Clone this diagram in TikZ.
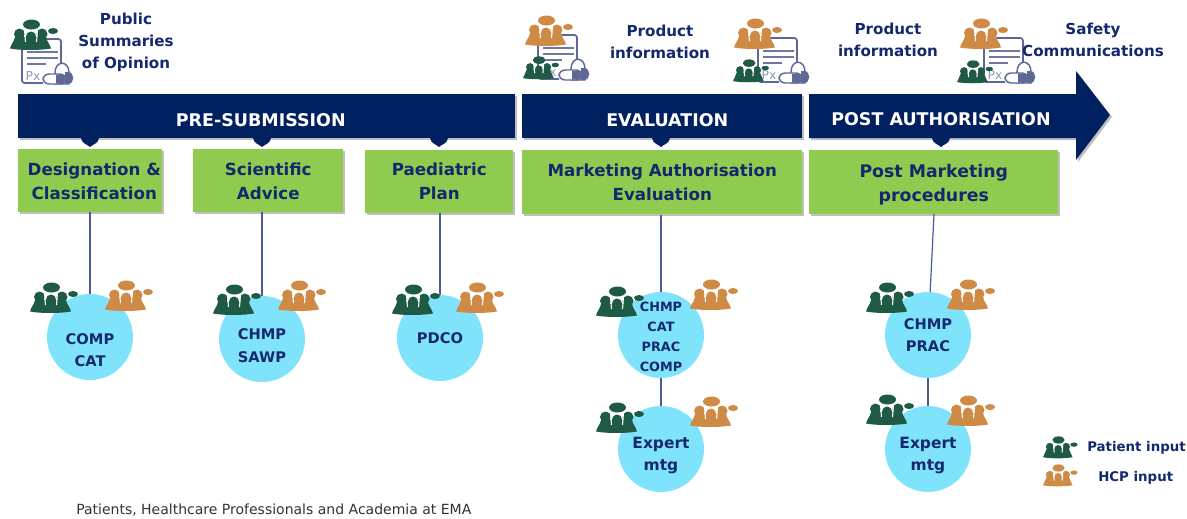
\documentclass[tikz,border=0pt]{standalone}
\usepackage{fontspec}
\setmainfont{DejaVu Sans}
\usetikzlibrary{shadows}
\definecolor{navy}{HTML}{002060}
\definecolor{ink}{HTML}{14286E}
\definecolor{leaf}{HTML}{8FCB4F}
\definecolor{sky}{HTML}{7FE4FB}
\definecolor{pgreen}{HTML}{1F5A45}
\definecolor{porange}{HTML}{CF8B45}
\definecolor{slate}{HTML}{5F6796}
\definecolor{rule}{HTML}{4A5A9A}
\newcommand\disctext[2]{\makebox[0pt]{\smash{\raisebox{#1}{\parbox[c]{70pt}{\centering #2}}}}}
\newcommand\bartext[2]{\hspace*{#1}\smash{\raisebox{-7.4pt}{#2}}}
\tikzset{
  x=0.75pt,y=-0.75pt,
  shade/.style={general shadow={fill=black,opacity=.25,shadow xshift=1.5pt,shadow yshift=-1.5pt}},
  barbox/.style={fill=navy,inner sep=0pt,text=white,font=\bfseries\fontsize{13.1}{16}\selectfont,shade},
  greenbox/.style={fill=leaf,inner sep=0pt,text=ink,align=center,font=\bfseries\fontsize{12.5}{18}\selectfont,shade},
  disc/.style={circle,fill=sky,inner sep=0pt,minimum size=64.5pt,text=ink,align=center},
  discsmall/.style={font=\bfseries\fontsize{11}{16.5}\selectfont},
  disctiny/.style={font=\bfseries\fontsize{9.6}{15}\selectfont},
  discbig/.style={font=\bfseries\fontsize{11.6}{16.5}\selectfont},
  toplabel/.style={text=ink,align=center,font=\bfseries\fontsize{11.35}{16.5}\selectfont},
  legendlabel/.style={text=ink,inner sep=0pt,font=\bfseries\fontsize{10}{12}\selectfont},
  link/.style={draw=rule,line width=0.9pt},
  pics/people/.style={code={
    \fill[#1] (21.5,5.5) ellipse (8.5 and 5);
    \fill[#1] (43,12) ellipse (5 and 3);
    \fill[#1] (9.5,15) circle (5.5);
    \fill[#1] (32,15) circle (5.5);
    \fill[#1] (0,29.5) .. controls (1,25) and (4,23) .. (5,18) -- (36,18) .. controls (37,23) and (40,25) .. (41,29.5) .. controls (30,31.5) and (10,31.5) .. (0,29.5) -- cycle;
    \draw[white,line width=0.8pt] (14.5,11) -- (15.5,23) (27.5,11) -- (26.5,23);
    \fill[#1] (21,17.5) circle (5);
  }},
  pics/paper/.style={code={
    \draw[slate,line width=1.3pt,rounded corners=2pt] (0,0) -- (39,0) -- (39,34) (21,44) -- (0,44) -- (0,0);
    \draw[slate!90,line width=1.3pt] (5,13) -- (36,13) (5,19) -- (36,19) (5,25) -- (24,25);
    \node[text=slate!70,inner sep=0pt,font=\fontsize{9.2}{10}\selectfont] (#1) at (11,37) {Px};
    \draw[slate,line width=1.1pt,fill=white] (33,34) .. controls (33,21) and (47,21) .. (47,34) -- (47,45) -- (33,45) -- cycle;
    \fill[slate] (43,33) -- (46,33) .. controls (53,33) and (53,45) .. (46,45) -- (43,45) -- cycle;
    \draw[slate,line width=1.1pt,fill=white,rounded corners=4.5pt] (21,35) rectangle (44,45);
    \fill[slate] (34,35.5) -- (40,35.5) .. controls (44,35.5) and (44,44.5) .. (40,44.5) -- (34,44.5) -- cycle;
  }},
  pics/drop/.style={code={
    \fill[navy] (-9,0) .. controls (-8,6) and (-3,6) .. (0,9) .. controls (3,6) and (8,6) .. (9,0) -- cycle;
  }}
}
\begin{document}
\begin{tikzpicture}
\useasboundingbox (0,0) rectangle (1187,518);

% timeline bars
\node[barbox,minimum width=372.75pt,minimum height=33pt,anchor=north west] (pre) at (18,94) {\bartext{-9pt}{PRE-SUBMISSION}};
\node[barbox,minimum width=210pt,minimum height=33pt,anchor=north west] (eva) at (522,94) {\bartext{7.5pt}{EVALUATION}};
\fill[black,opacity=.25] (811,96) -- (1078,96) -- (1078,73) -- (1112,117) -- (1078,162) -- (1078,140) -- (811,140) -- cycle;
\fill[navy] (809,94) -- (1076,94) -- (1076,71) -- (1110,115) -- (1076,160) -- (1076,138) -- (809,138) -- cycle;
\node[inner sep=0pt,text=white,font=\bfseries\fontsize{13.1}{16}\selectfont] (pos) at (941,119.5) {POST AUTHORISATION};

% green boxes
\node[greenbox,minimum width=108pt,minimum height=47pt,anchor=north west] (ga) at (18,149) {\rule{0pt}{11pt}\hspace*{6pt}Designation \&\\\hspace*{6pt}Classification};
\node[greenbox,minimum width=112.5pt,minimum height=47pt,anchor=north west] (gb) at (193,149) {\rule{0pt}{11pt}Scientific\\Advice};
\node[greenbox,minimum width=111pt,minimum height=47pt,anchor=north west] (gc) at (365,150) {Paediatric\\Plan};
\node[greenbox,minimum width=210pt,minimum height=48pt,anchor=north west] (gd) at (522,150) {Marketing Authorisation\\Evaluation};
\node[greenbox,minimum width=186.75pt,minimum height=48pt,anchor=north west,font=\bfseries\fontsize{13}{18}\selectfont] (ge) at (809,150) {\rule{0pt}{13pt}Post Marketing\\procedures};

\foreach \q in {90,262,439,661,941} \pic at (\q,138) {drop};

% discs
\node[disc,discsmall] (ca) at (90,337) {\disctext{-12.5pt}{COMP\\CAT}};
\node[disc,font=\bfseries\fontsize{11}{17}\selectfont] (cb) at (262,339) {\disctext{-7.5pt}{CHMP\\SAWP}};
\node[disc,discsmall] (cc) at (440,338) {PDCO};
\node[disc,disctiny] (cd) at (661,335) {\disctext{-4pt}{CHMP\\CAT\\PRAC\\COMP}};
\node[disc,discbig] (cf) at (661,449) {\disctext{-7.75pt}{Expert\\mtg}};
\node[disc,discsmall] (ce) at (928,335) {CHMP\\PRAC};
\node[disc,discbig] (cg) at (928,449) {\disctext{-7.75pt}{Expert\\mtg}};
\coordinate (geout) at (934,214);

% connectors
\draw[link] (ca |- ga.south) -- (ca);
\draw[link] (cb |- gb.south) -- (cb);
\draw[link] (cc |- gc.south) -- (cc);
\draw[link] (cd |- gd.south) -- (cd);
\draw[link] (cd) -- (cf);
\draw[link] (geout) -- (ce);
\draw[link] (ce) -- (cg);

% input icons on discs
\pic at (30,282) {people=pgreen};
\pic at (105,280) {people=porange};
\pic at (213,284) {people=pgreen};
\pic at (278,280) {people=porange};
\pic at (392,284) {people=pgreen};
\pic at (456,282) {people=porange};
\pic at (596,286) {people=pgreen};
\pic at (690,279) {people=porange};
\pic at (596,402) {people=pgreen};
\pic at (690,396) {people=porange};
\pic at (866,282) {people=pgreen};
\pic at (947,279) {people=porange};
\pic at (866,394) {people=pgreen};
\pic at (947,395) {people=porange};

% document icons
\pic at (22,39) {paper=pxa};
\pic at (10,19) {people=pgreen};
\pic at (538,35) {paper=pxb};
\pic at (525,15) {people=porange};
\pic[scale=.75] at (523,56) {people=pgreen};
\pic at (758,38) {paper=pxc};
\pic at (734,18) {people=porange};
\pic[scale=.75] at (733,59) {people=pgreen};
\pic at (984,38) {paper=pxd};
\pic at (960,18) {people=porange};
\pic[scale=.75] at (957,60) {people=pgreen};

% labels
\node[toplabel] (ta) at (126,42.5) {Public\\Summaries\\of Opinion};
\node[toplabel] (tb) at (660,42) {Product\\information};
\node[toplabel] (tc) at (888,40) {Product\\information};
\node[toplabel] (td) at (1093,40) {Safety\\Communications};

% legend
\pic[scale=.72] at (1043,436) {people=pgreen};
\pic[scale=.72] at (1043,464) {people=porange};
\node[legendlabel,anchor=west] (la) at (1087,448) {Patient input};
\node[legendlabel,anchor=west] (lb) at (1098,478) {HCP input};

\node[anchor=west,inner sep=0pt,text=black!80,font=\fontsize{10.5}{12}\selectfont] (foot) at (76,510) {Patients, Healthcare Professionals and Academia at EMA};
\end{tikzpicture}
\end{document}
